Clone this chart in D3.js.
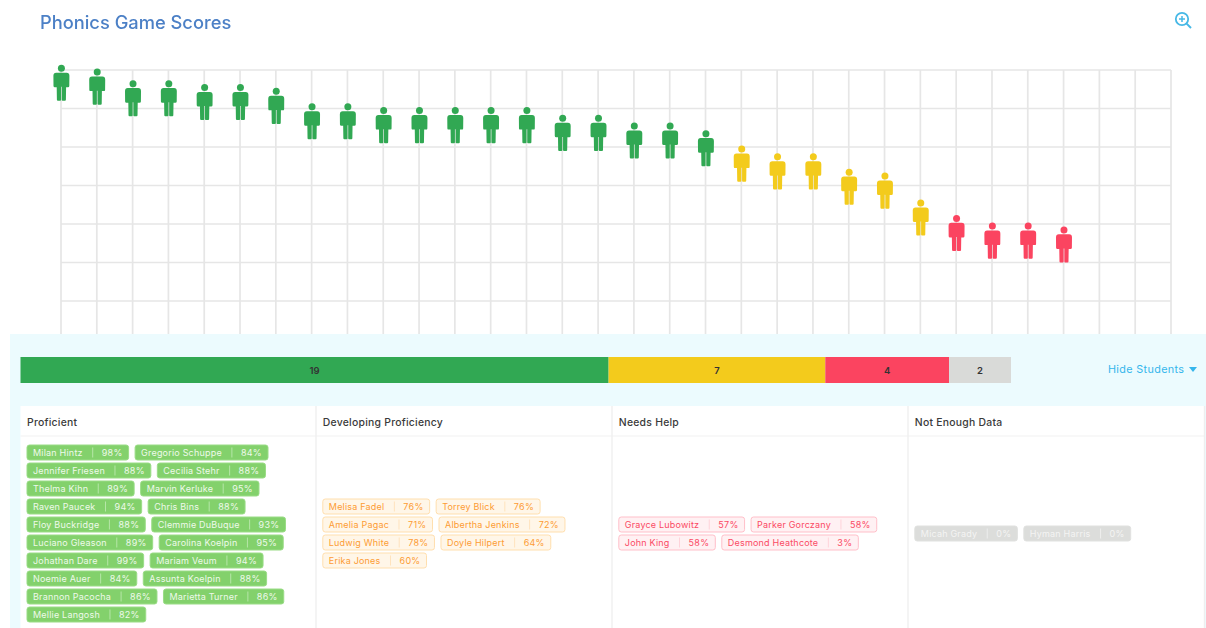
<!DOCTYPE html>
<html><head><meta charset="utf-8">
<script src="https://cdn.jsdelivr.net/npm/d3@7"></script>
<style>
html,body{margin:0;padding:0;background:#fff;overflow:hidden}
svg{display:block;filter:blur(0.6px)}
text{font-family:Inter,"Noto Sans",sans-serif}
</style></head><body>
<div id="chart"></div>
<script>
const titleText = "Phonics Game Scores";
const chartScores = [99,98,95,95,94,94,93,89,89,88,88,88,88,88,86,86,84,84,82,78,76,76,72,71,64,60,58,58,57];
const chartBands  = ["P","P","P","P","P","P","P","P","P","P","P","P","P","P","P","P","P","P","P","D","D","D","D","D","D","N","N","N","N"];
const slotCount = 32;
const gridValues = [100,90,80,70,60,50,40,30];
const bandKeys = ["P","D","N","X"];
const bandNames = ["Proficient","Developing Proficiency","Needs Help","Not Enough Data"];
const bandCounts = [19,7,4,2];
const proficientNames = ["Milan Hintz","Gregorio Schuppe","Jennifer Friesen","Cecilia Stehr","Thelma Kihn","Marvin Kerluke","Raven Paucek","Chris Bins","Floy Buckridge","Clemmie DuBuque","Luciano Gleason","Carolina Koelpin","Johathan Dare","Mariam Veum","Noemie Auer","Assunta Koelpin","Brannon Pacocha","Marietta Turner","Mellie Langosh"];
const proficientScores = [98,84,88,88,89,95,94,88,88,93,89,95,99,94,84,88,86,86,82];
const developingNames = ["Melisa Fadel","Torrey Blick","Amelia Pagac","Albertha Jenkins","Ludwig White","Doyle Hilpert","Erika Jones"];
const developingScores = [76,76,71,72,78,64,60];
const needsNames = ["Grayce Lubowitz","Parker Gorczany","John King","Desmond Heathcote"];
const needsScores = [57,58,58,3];
const noDataNames = ["Micah Grady","Hyman Harris"];
const noDataScores = [0,0];
const actionLabel = "Hide Students";

const W=1206,H=628;
const fill={P:"#31a853",D:"#f3cb1c",N:"#fb4460",X:"#d9dad8"};
const tagStyle={
 P:{bg:"#83d16c",bd:"#9adc86",fg:"#eef9ea",sep:"#b6e6a8"},
 D:{bg:"#fff6e8",bd:"#ffdfae",fg:"#fd9c34",sep:"#ffe3bd"},
 N:{bg:"#fff1f3",bd:"#ffbfc9",fg:"#fb4a64",sep:"#ffd3da"},
 X:{bg:"#dcdddb",bd:"#e0e1df",fg:"#f4f4f3",sep:"#eeeeed"}
};
const svg=d3.select("#chart").append("svg").attr("width",W).attr("height",H);

svg.append("text").attr("x",40).attr("y",28.5).attr("font-size",18.3).attr("font-weight",500).attr("fill","#4c80c6").text(titleText);

// zoom icon
const zi=svg.append("g").attr("transform","translate(1182,19)").attr("fill","none").attr("stroke","#46b8e6");
zi.append("circle").attr("r",6.2).attr("stroke-width",1.8);
zi.append("path").attr("d","M4.6,4.6L9,9").attr("stroke-width",2);
zi.append("path").attr("d","M-3,0H3M0,-3V3").attr("stroke-width",1.5);

// plot
const x=d3.scaleLinear().domain([0,slotCount-1]).range([61,1171]);
const y=d3.scaleLinear().domain([100,30]).range([70,339.5]);
const grid=svg.append("g").attr("stroke","#e6e6e6").attr("stroke-width",1.7);
grid.selectAll("line.h").data(gridValues).join("line").attr("class","h")
  .attr("x1",x(0)).attr("x2",x(slotCount-1)).attr("y1",d=>y(d)).attr("y2",d=>y(d));
grid.selectAll("line.v").data(d3.range(slotCount)).join("line").attr("class","v")
  .attr("x1",d=>x(d)).attr("x2",d=>x(d)).attr("y1",y(100)).attr("y2",y(30));

const personPath="M-5.2,-1.2L5.2,-1.2Q8,-1.2 8,2L7.9,12.2Q7.8,13.4 6.6,13.4L5.2,13.4L4.7,13.4L4.5,26Q4.5,27 3.5,27L1.2,27Q.35,27 .35,26L.35,13L-.35,13L-.35,26Q-.35,27 -1.2,27L-3.5,27Q-4.5,27 -4.5,26L-4.7,13.4L-5.2,13.4L-6.6,13.4Q-7.8,13.4 -7.9,12.2L-8,2Q-8,-1.2 -5.2,-1.2Z";
const people=svg.append("g").selectAll("g").data(chartScores).join("g")
  .attr("transform",(d,i)=>`translate(${x(i)+0.4},${y(d)})`).attr("fill",(d,i)=>fill[chartBands[i]]);
people.append("circle").attr("cy",-5.6).attr("r",3.5);
people.append("path").attr("d",personPath);

// panel
svg.append("rect").attr("x",10).attr("y",334).attr("width",W-10).attr("height",H-334).attr("fill","#ecfbfe");

// stacked bar
const bx=d3.scaleLinear().domain([0,d3.sum(bandCounts)]).range([20.5,1011]);
let cum=0;
bandCounts.forEach((c,i)=>{
  const k=bandKeys[i],a=bx(cum),b=bx(cum+c);cum+=c;
  svg.append("rect").attr("x",a).attr("y",357).attr("width",b-a).attr("height",26).attr("fill",fill[k]);
  svg.append("text").attr("x",(a+b)/2).attr("y",373.5).attr("text-anchor","middle").attr("font-size",9.5).attr("font-weight",600).attr("fill","#333").text(c);
});
svg.append("text").attr("x",1108).attr("y",373).attr("font-size",10.8).attr("letter-spacing",0.35).attr("fill","#35b6ec").text(actionLabel);
svg.append("path").attr("d","M1189,367L1197,367L1193,372Z").attr("fill","#35b6ec");

// table
const colX=[20.5,316,612,908,1204.5];
svg.append("rect").attr("x",colX[0]).attr("y",406).attr("width",colX[4]-colX[0]).attr("height",H-406).attr("fill","#fff");
svg.append("line").attr("x1",colX[0]).attr("x2",colX[4]).attr("y1",436).attr("y2",436).attr("stroke","#f1f1f1").attr("stroke-width",1.2);
colX.slice(1).forEach(cx=>svg.append("line").attr("x1",cx).attr("x2",cx).attr("y1",406).attr("y2",H).attr("stroke","#efefef").attr("stroke-width",1.4));

const lists=[[proficientNames,proficientScores],[developingNames,developingScores],[needsNames,needsScores],[noDataNames,noDataScores]];
const rowPitch=18,tagH=16,midY=534.5;
let cursor=0;
lists.forEach(([names,scores],ci)=>{
  const k=bandKeys[ci],st=tagStyle[k],left=colX[ci]+(ci==0?6.5:6.8);
  svg.append("text").attr("x",left).attr("y",426).attr("font-size",10.4).attr("letter-spacing",0.25).attr("font-weight",500).attr("fill","#3a3a3a").text(bandNames[ci]);
  const rows=Math.ceil(names.length/2), top=midY-rows*rowPitch/2;
  names.forEach((n,i)=>{
    const r=Math.floor(i/2);
    if(i%2==0) cursor=left;
    const g=svg.append("g").attr("transform",`translate(${cursor},${top+r*rowPitch})`);
    const rect=g.append("rect").attr("y",0.5).attr("height",tagH-1).attr("rx",2.5).attr("fill",st.bg).attr("stroke",st.bd);
    const t=g.append("text").attr("x",6).attr("y",11.5).attr("font-size",9).attr("letter-spacing",0.2).attr("fill",st.fg).text(n);
    const w=t.node().getComputedTextLength();
    const sepX=6+w+10;
    g.append("line").attr("x1",sepX).attr("x2",sepX).attr("y1",3).attr("y2",13).attr("stroke",st.sep);
    const p=g.append("text").attr("x",sepX+9).attr("y",11.5).attr("font-size",9).attr("letter-spacing",0.3).attr("fill",st.fg).text(scores[i]+"%");
    const total=sepX+9+p.node().getComputedTextLength()+6;
    rect.attr("width",total);
    cursor+=total+6.5;
  });
});
</script>
</body></html>
